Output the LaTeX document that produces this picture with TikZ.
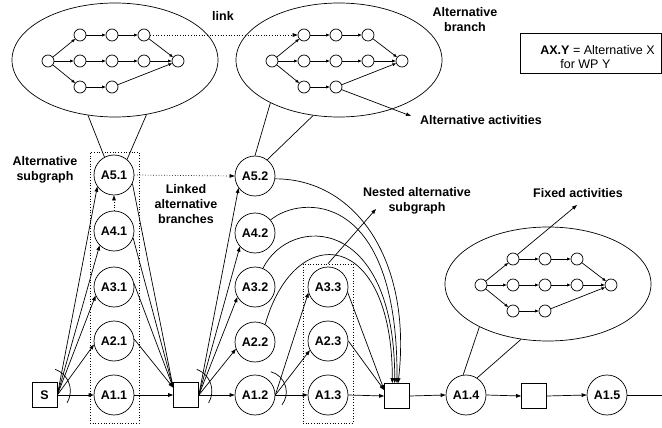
\documentclass[tikz,border=0pt]{standalone}
\usepackage{fontspec}
\setmainfont{Liberation Sans}
\usetikzlibrary{shapes.geometric,arrows.meta,calc}
\tikzset{
  arr/.style={-{Triangle[length=5pt,width=3.6pt]}},
  sarr/.style={-{Triangle[length=3.6pt,width=2.8pt]}},
  act/.style={draw,circle,minimum size=40pt,inner sep=0pt,font=\bfseries\fontsize{12.5}{15}\selectfont},
  sqbox/.style={draw,minimum size=25pt,inner sep=0pt,font=\bfseries\fontsize{12.5}{15}\selectfont},
  sc/.style={draw,circle,minimum size=12pt,inner sep=0pt},
  ell/.style={draw,ellipse,minimum width=206pt,minimum height=114pt,inner sep=0pt},
  lbl/.style={font=\bfseries\fontsize{12.5}{15}\selectfont,align=center,inner sep=0pt},
  dotbox/.style={draw,dotted,inner sep=0pt},
  altgraph/.pic={
    \node[ell] (-e) at (0,0) {};
    \node[sc] (-s) at (-67,1) {};
    \node[sc] (-t1) at (-35,-25) {};
    \node[sc] (-t2) at (-3,-25) {};
    \node[sc] (-t3) at (29,-25) {};
    \node[sc] (-m1) at (-35,1) {};
    \node[sc] (-m2) at (-3,1) {};
    \node[sc] (-m3) at (29,1) {};
    \node[sc] (-b1) at (-35,27) {};
    \node[sc] (-b2) at (-3,27) {};
    \node[sc] (-f) at (63,1) {};
    \draw[sarr] (-s) -- (-t1);
    \draw[sarr] (-s) -- (-m1);
    \draw[sarr] (-s) -- (-b1);
    \draw[sarr] (-t1) -- (-t2);
    \draw[sarr] (-t2) -- (-t3);
    \draw[sarr] (-t3) -- (-f);
    \draw[sarr] (-m1) -- (-m2);
    \draw[sarr] (-m2) -- (-m3);
    \draw[sarr] (-m3) -- (-f);
    \draw[sarr] (-b1) -- (-b2);
    \draw[sarr] (-b2) -- (-f);
  }
}
\begin{document}
\begin{tikzpicture}[x=1pt,y=-1pt,line width=0.7pt]
\useasboundingbox (0,0) rectangle (662,428);

% ellipses with inner graphs
\pic (E1) at (115,60) {altgraph};
\pic (E2) at (339,60) {altgraph};
\pic (E3) at (548,284) {altgraph};

% dotted subgraph boxes
\node[dotbox,minimum width=49pt,minimum height=271pt] (R1) at (114.5,287.5) {};
\node[dotbox,minimum width=50pt,minimum height=159pt] (R3) at (328,343.5) {};

% activity nodes
\node[sqbox] (S) at (44.5,395) {S};
\node[act] (A11) at (114,395) {A1.1};
\node[act] (A21) at (114,341) {A2.1};
\node[act] (A31) at (114,287) {A3.1};
\node[act] (A41) at (114,231) {A4.1};
\node[act] (A51) at (114,175) {A5.1};
\node[sqbox] (sq2) at (186,395) {};
\node[act] (A12) at (255,395) {A1.2};
\node[act] (A22) at (255,342) {A2.2};
\node[act] (A32) at (255,287) {A3.2};
\node[act] (A42) at (255,233) {A4.2};
\node[act] (A52) at (255,176) {A5.2};
\node[act] (A13) at (328,395) {A1.3};
\node[act] (A23) at (328,341) {A2.3};
\node[act] (A33) at (328,287) {A3.3};
\node[sqbox] (sq3) at (397,396) {};
\node[act] (A14) at (466,395) {A1.4};
\node[sqbox] (sq4) at (534,396) {};
\node[act] (A15) at (607,395) {A1.5};
\coordinate (rend) at (662,395);

% labels
\node[lbl] (tlink) at (223,16) {link};
\node[lbl] (tbranch) at (465,20) {Alternative\\branch};
\node[lbl] (tsub) at (45,170) {Alternative\\subgraph};
\node[lbl] (tlinked) at (186,204) {Linked\\alternative\\branches};
\node[lbl] (tnested) at (417,201) {Nested alternative\\subgraph};
\node[lbl] (tfixed) at (578,193) {Fixed activities};
\node[lbl] (taltact) at (481,120) {Alternative activities};
\coordinate (nestedtip) at (376,209);
\coordinate (fixedtip) at (577,205);
\coordinate (altacttip) at (411,116);

% legend
\node[draw,minimum width=141pt,minimum height=40pt,inner sep=0pt] (legend) at (591,53) {};
\node[anchor=west,align=left,inner sep=0pt,font=\fontsize{12.5}{14}\selectfont] (legtext) at (540,57)
  {\textbf{AX.Y} = Alternative X\\\hspace*{20pt}for WP Y};

% callout lines
\draw (E1-e.244) -- (A51.118);
\draw (E1-e.300) -- (A51.50);
\draw (E2-e.212) -- (A52.90);
\draw (E2-e.245) -- (A52.53);
\draw (E3-e.212) -- (A14.98);
\draw (E3-e.244) -- (A14.57);

% annotation arrows
\draw[arr,dotted] (E1-t3.east) -- (E2-t1.west);
\draw[arr] (E2-b2.-25) -- (altacttip);
\draw[arr] (E3-t1.45) -- (fixedtip);
\draw[arr] (R3.north) -- (nestedtip);

% first alternative subgraph
\draw[arr] (S.east) -- (A11.west);
\draw[arr] (S.east) -- (A21.190);
\draw[arr] (S.east) -- (A31.205);
\draw[arr] (S.east) -- (A41.225);
\draw[arr] (S.east) -- (A51.215);
\draw[arr,dotted] (A41.north) -- (A51.south);
\draw[arr] (A11.east) -- (sq2.west);
\draw[arr] (A21.5) -- (sq2.150);
\draw[arr] (A31.10) -- (sq2.150);
\draw[arr] (A41.-20) -- (sq2.150);
\draw[arr] (A51.-25) -- (sq2.150);
\draw[arr,dotted] (A51.east) -- (A52.west);

% second subgraph
\draw[arr] (sq2.east) -- (A12.west);
\draw[arr] (sq2.east) -- (A22.200);
\draw[arr] (sq2.east) -- (A32.210);
\draw[arr] (sq2.east) -- (A42.222);
\draw[arr] (sq2.east) -- (A52.216);
\draw[arr] (A52.-8) .. controls +(80,0) and +(14,-124) .. (sq3.85);
\draw[arr] (A42.40) .. controls +(30,-25) and +(1,-194) .. (sq3.90);
\draw[arr] (A32.67) .. controls +(27,-54) and +(0,-169) .. (sq3.100);
\draw[arr] (A22.60) .. controls +(30,-105) and +(0,-154) .. (sq3.110);

% nested subgraph
\draw[arr] (A12.east) -- (A13.west);
\draw[arr] (A12.east) -- (A23.207);
\draw[arr] (A12.east) -- (A33.196);
\draw[arr] (A13.east) -- (sq3.west);
\draw[arr] (A23.east) -- (sq3.155);
\draw[arr] (A33.-15) -- (sq3.155);

% fixed part
\draw[arr] (sq3.east) -- (A14.west);
\draw[arr] (A14.east) -- (sq4.west);
\draw[arr] (sq4.east) -- (A15.west);
\draw (A15.east) -- (rend);

% OR arcs
\draw ($(S.east)+(-10,-4)$) ++(-70:23) arc[start angle=-70,end angle=31,radius=23];
\draw ($(sq2.east)+(-10,-4)$) ++(-70:23) arc[start angle=-70,end angle=31,radius=23];
\draw ($(A12.east)+(-10,-3)$) ++(-75:21) arc[start angle=-75,end angle=38,radius=21];
\end{tikzpicture}
\end{document}
